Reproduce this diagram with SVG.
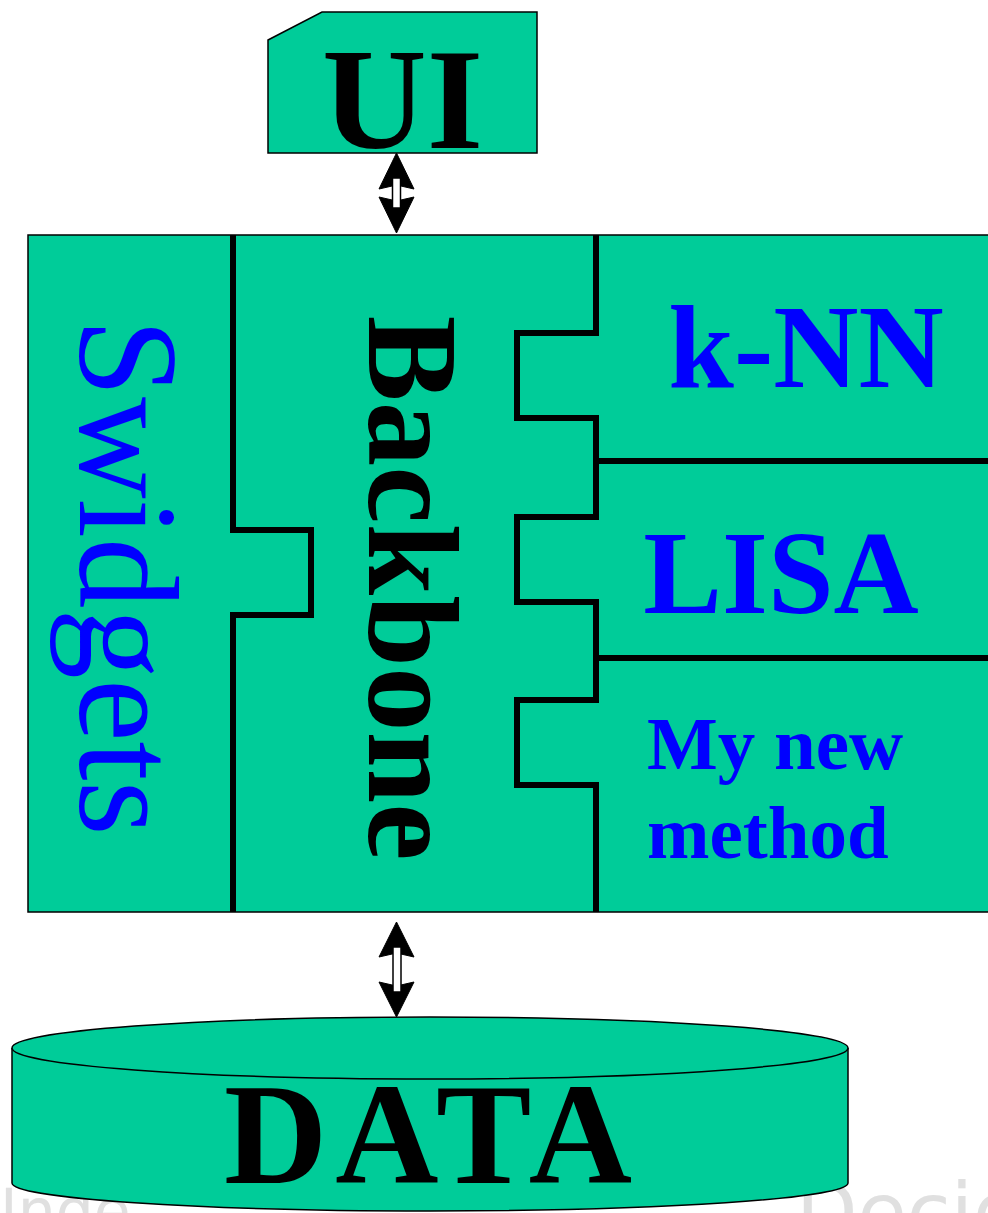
<svg xmlns="http://www.w3.org/2000/svg" width="988" height="1213" viewBox="0 0 988 1213">
  <style>
    .fill { fill: #00CC99; stroke: #000; stroke-width: 1.5; }
    .divider { fill: none; stroke: #000; stroke-width: 6; stroke-linejoin: miter; }
    .serif { font-family: "Liberation Serif", "Times New Roman", serif; }
    .bold { font-weight: bold; }
    .blue { fill: #0000FF; }
    .black { fill: #000; }
    .wm { font-family: "DejaVu Sans", Verdana, sans-serif; fill: #E0E0E0; }
    .head { fill: #000; stroke: #000; stroke-width: 1; }
    .shaft { fill: #fff; stroke: #000; stroke-width: 1.5; }
  </style>
  <rect width="988" height="1213" fill="#fff"/>

  <!-- faint background text fragments -->
  <text class="wm" x="0" y="1232" font-size="60">Inde</text>
  <text class="wm" x="796" y="1240" font-size="80">Decid</text>

  <g id="ui">
    <polygon class="fill" points="268,40 322,12 537,12 537,153 268,153"/>
    <text class="serif bold black" x="402.5" y="148" font-size="145" text-anchor="middle">UI</text>
  </g>

  <g id="framework">
    <rect class="fill" x="28" y="235" width="965" height="677"/>
  </g>

  <g id="swidgets">
    <text class="serif blue" transform="translate(80,577) rotate(90)" font-size="141" text-anchor="middle">Swidgets</text>
  </g>

  <g id="backbone">
    <path class="divider" d="M233,235 V530 H311 V615 H233 V912"/>
    <path class="divider" d="M596,235 V333 H517 V418 H596 V517 H517 V602 H596 V700 H517 V785 H596 V912"/>
    <text class="serif bold black" transform="translate(369,588) rotate(90)" font-size="129" text-anchor="middle">Backbone</text>
  </g>

  <g id="knn">
    <text class="serif bold blue" x="806" y="387" font-size="118" text-anchor="middle">k-NN</text>
  </g>

  <g id="lisa">
    <line class="divider" x1="596" y1="461" x2="990" y2="461"/>
    <text class="serif bold blue" x="781" y="613" font-size="118" text-anchor="middle">LISA</text>
  </g>

  <g id="newmethod">
    <line class="divider" x1="596" y1="658" x2="990" y2="658"/>
    <text class="serif bold blue" x="647" y="769" font-size="75">My new</text>
    <text class="serif bold blue" x="647" y="858" font-size="75">method</text>
  </g>

  <g id="data">
    <path class="fill" d="M12,1048 V1183 A418,28 0 0 0 848,1183 V1048"/>
    <ellipse class="fill" cx="430" cy="1048" rx="418" ry="31"/>
    <text class="serif bold black" x="432" y="1183" font-size="143" letter-spacing="8" text-anchor="middle">DATA</text>
  </g>

  <g id="connectors">
    <!-- UI <-> framework -->
    <polygon class="head" points="396.5,153 414,189 396.5,185 379,189"/>
    <polygon class="head" points="396.5,233 414,197 396.5,201 379,197"/>
    <rect class="shaft" x="392.5" y="178" width="8" height="30"/>
    <!-- framework <-> DATA -->
    <polygon class="head" points="396.5,922 414,957 396.5,953 379,957"/>
    <polygon class="head" points="396.5,1017 414,982 396.5,986 379,982"/>
    <rect class="shaft" x="393" y="947" width="8" height="45"/>
  </g>
</svg>
